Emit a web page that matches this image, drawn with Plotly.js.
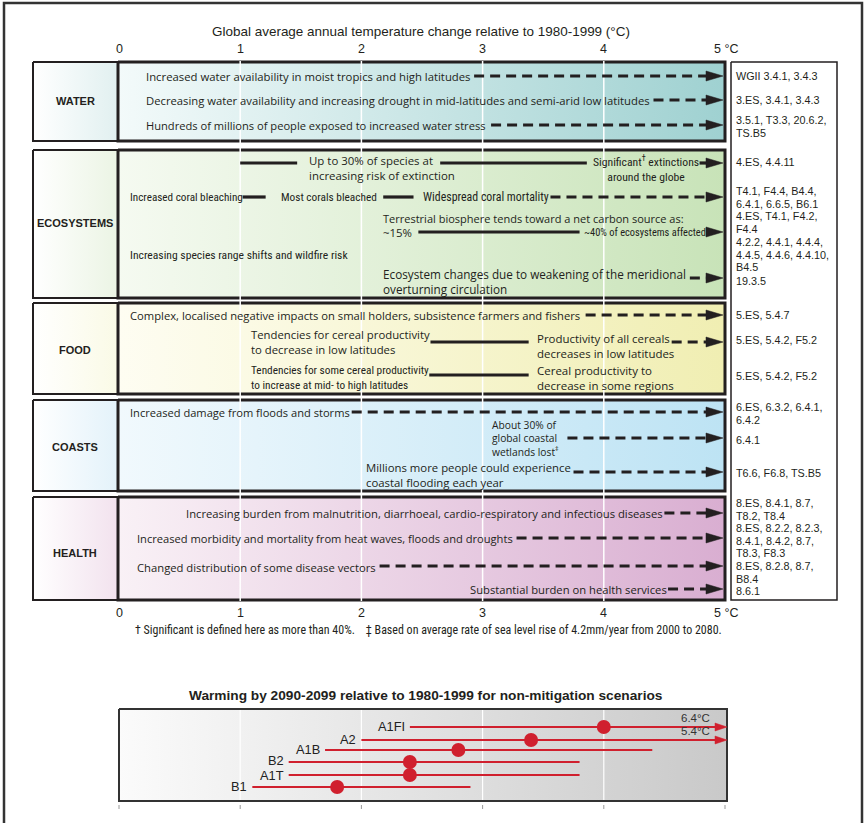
<!DOCTYPE html>
<html><head><meta charset="utf-8">
<script src="https://cdn.plot.ly/plotly-3.0.1.min.js"></script>
<style>html,body{margin:0;padding:0;background:#fff}</style>
</head><body><div id="chart" style="width:865px;height:823px"></div>
<script>
// ================= DATA =================
const mainTitle = 'Global average annual temperature change relative to 1980-1999 (°C)';
const tempTicks = [0, 1, 2, 3, 4, 5];
const tempTickLabels = ['0', '1', '2', '3', '4', '5 °C'];
const sectors = ['WATER', 'ECOSYSTEMS', 'FOOD', 'COASTS', 'HEALTH'];

const impactLabels = [
  'Increased water availability in moist tropics and high latitudes',
  'Decreasing water availability and increasing drought in mid-latitudes and semi-arid low latitudes',
  'Hundreds of millions of people exposed to increased water stress',
  'Up to 30% of species at|increasing risk of extinction',
  'Significant<sup>†</sup> extinctions|around the globe',
  'Increased coral bleaching',
  'Most corals bleached',
  'Widespread coral mortality',
  'Terrestrial biosphere tends toward a net carbon source as:',
  '~15%',
  '~40% of ecosystems affected',
  'Increasing species range shifts and wildfire risk',
  'Ecosystem changes due to weakening of the meridional|overturning circulation',
  'Complex, localised negative impacts on small holders, subsistence farmers and fishers',
  'Tendencies for cereal productivity|to decrease in low latitudes',
  'Productivity of all cereals|decreases in low latitudes',
  'Tendencies for some cereal productivity|to increase at mid- to high latitudes',
  'Cereal productivity to|decrease in some regions',
  'Increased damage from floods and storms',
  'About 30% of|global coastal|wetlands lost<sup>‡</sup>',
  'Millions more people could experience|coastal flooding each year',
  'Increasing burden from malnutrition, diarrhoeal, cardio-respiratory and infectious diseases',
  'Increased morbidity and mortality from heat waves, floods and droughts',
  'Changed distribution of some disease vectors',
  'Substantial burden on health services'
];

// impact line segments (°C), row index, dashed flag
const segRow    = [0, 1, 2, 3, 3, 3, 4, 4, 4, 5, 6, 7, 8, 8, 9, 10, 11, 12, 13, 14, 15, 16];
const segFrom   = [2.93, 4.41, 3.07, 1.0, 2.65, 4.79, 1.02, 2.18, 3.56, 2.47, 4.71, 3.85, 2.57, 4.56, 2.56, 1.92, 3.70, 3.75, 4.50, 3.28, 2.15, 4.53];
const segTo     = [5, 5, 5, 1.47, 3.86, 5, 1.21, 2.43, 5, 3.80, 5, 5, 3.38, 5, 3.38, 5, 5, 5, 5, 5, 5, 5];
const segDashed = [1, 1, 1, 0, 0, 0, 0, 0, 1, 0, 1, 1, 0, 1, 0, 1, 1, 1, 1, 1, 1, 1];
// rows whose impacts continue beyond 5 °C (arrow)
const arrowRows = [0, 1, 2, 3, 4, 5, 6, 7, 8, 10, 11, 12, 13, 14, 15, 16];

const refCodes = [
  'WGII 3.4.1, 3.4.3',
  '3.ES, 3.4.1, 3.4.3',
  '3.5.1, T3.3, 20.6.2,|TS.B5',
  '4.ES, 4.4.11',
  'T4.1, F4.4, B4.4,|6.4.1, 6.6.5, B6.1',
  '4.ES, T4.1, F4.2,|F4.4',
  '4.2.2, 4.4.1, 4.4.4,|4.4.5, 4.4.6, 4.4.10,|B4.5',
  '19.3.5',
  '5.ES, 5.4.7',
  '5.ES, 5.4.2, F5.2',
  '5.ES, 5.4.2, F5.2',
  '6.ES, 6.3.2, 6.4.1,|6.4.2',
  '6.4.1',
  'T6.6, F6.8, TS.B5',
  '8.ES, 8.4.1, 8.7,|T8.2, T8.4',
  '8.ES, 8.2.2, 8.2.3,|8.4.1, 8.4.2, 8.7,|T8.3, F8.3',
  '8.ES, 8.2.8, 8.7,|B8.4',
  '8.6.1'
];

const footnote = '† Significant is defined here as more than 40%.    ‡ Based on average rate of sea level rise of 4.2mm/year from 2000 to 2080.';

const scenTitle = 'Warming by 2090-2099 relative to 1980-1999 for non-mitigation scenarios';
const scenarios    = ['B1', 'A1T', 'B2', 'A1B', 'A2', 'A1FI'];
const scenarioBest = [1.8, 2.4, 2.4, 2.8, 3.4, 4.0];
const scenarioLow  = [1.1, 1.4, 1.4, 1.7, 2.0, 2.4];
const scenarioHigh = [2.9, 3.8, 3.8, 4.4, 5.4, 6.4];

// ================= LAYOUT (positions / styles) =================
const X0 = 119, PXC = 121.2;            // pixel of 0 °C, pixels per °C
const P = px => (px - X0) / PXC;        // page pixel -> axis value
const W = 865, H = 823;

const INK = '#231f20';
const FAM_MAIN = 'Open Sans, sans-serif';
const FAM_COND = 'Roboto Condensed, DejaVu Sans Condensed, Liberation Sans, sans-serif';
const FAM_ARIAL = 'Liberation Sans, Arial, sans-serif';

const sectorTop = [62, 150, 303, 400, 497];
const sectorBot = [141, 298, 394, 491, 600];
const sectorLabelY = [101, 223, 350, 447, 553];
const sectorEnd = ['#9fd1d1', '#c8e3b8', '#f0eeb2', '#bde3f4', '#d9aed1'];
const sectorStart = ['#f3fafa', '#f5faf1', '#fefdf2', '#f1f9fd', '#f9f1f6'];
const catEnd = ['#e1f0f0', '#ebf4e4', '#fafae6', '#e3f2fa', '#f2e2ee'];

const rowY = [76, 100, 125, 163, 197, 232, 278, 315, 342, 375, 412, 438, 472, 513, 538, 566, 589];
// first-line centre (px), line pitch, target first-line width, anchor, style
const labelPx  = [144, 144, 144, 307, 646, 128, 279, 421, 381, 381, 582, 128, 381, 128, 249, 535, 249, 535, 128, 490, 364, 184, 135, 135, 468];
const labelPy  = [76, 100, 125, 162, 162, 197, 197, 197, 218, 232, 232, 255, 275, 315, 336, 339, 372, 372, 412, 426, 468, 513, 538, 567, 589];
const labelGap = [12, 12, 12, 12, 12, 12, 12, 12, 12, 12, 12, 12, 13, 12, 12, 13, 12, 12, 12, 12, 13, 12, 12, 12, 12];
const labelW   = [325, 504, 340, 124, 108, 113, 96, 126, 301, 29, 122, 218, 303, 451, 179, 133, 178, 115, 220, 64, 205, 477, 376, 239, 197];
const labelAlign = ['left','left','left','left','center','left','left','left','left','left','left','left','left','left','left','left','left','left','left','left','left','left','left','left','left'];
const labelStyle = ['n','n','n','n','c','c','c','c','n','n','c','c','n','n','n','n','c','n','n','n','n','n','n','n','n'];

const refY = [76, 100, 120, 162, 191, 216, 242, 281, 315, 340, 376, 407, 440, 473, 503, 528, 566, 591];
const REF_PITCH = 12.5, REF_SIZE = 10.8;

const scenY = [787, 775, 762, 750, 740, 727];
const scenLabelY = [786, 775.5, 760.5, 749, 739, 726];
const RED = '#d0202e';

const ARROW_TIP = P(723), ARROW_LEN = 17 / PXC, ARROW_HALF = 5;

// text measurement to fit label widths
const cv = document.createElement('canvas').getContext('2d');
function measure(txt, fam, size, bold) {
  cv.font = (bold ? 'bold ' : '') + size + 'px ' + fam.split(',').map(s => { s = s.trim(); return s === 'sans-serif' ? s : '"' + s + '"'; }).join(',');
  return cv.measureText(txt.replace(/<[^>]+>/g, '')).width;
}
function fitSize(txt, fam, target, lo, hi, bold) {
  const s = 10 * target / measure(txt, fam, 10, bold);
  return Math.max(lo, Math.min(hi, s));
}

// ================= BUILD =================
const traces = [];
const annotations = [];
const shapes = [];
const line = (x, y, color, width, dash) => ({type: 'scatter', mode: 'lines', hoverinfo: 'skip', showlegend: false,
  x, y, line: {color, width, dash: dash || 'solid'}});

sectors.forEach((s, i) => {
  const t = sectorTop[i], b = sectorBot[i];
  traces.push(Object.assign(line([P(33), P(118), P(118), P(33), P(33)], [t, t, b, b, t], INK, 2), {
    fill: 'toself', fillgradient: {type: 'horizontal', colorscale: [[0, '#ffffff'], [1, catEnd[i]]]}}));
  traces.push(Object.assign(line([P(118), P(725), P(725), P(118), P(118)], [t, t, b, b, t], INK, 3), {
    fill: 'toself', fillgradient: {type: 'horizontal', colorscale: [[0, sectorStart[i]], [1, sectorEnd[i]]]}}));
  annotations.push({x: P(75), y: sectorLabelY[i], text: '<b>' + s + '</b>', showarrow: false,
    xanchor: 'center', yanchor: 'middle', font: {family: FAM_ARIAL, size: 11, color: INK}});
});

{
  const gx = [], gy = [];
  tempTicks.slice(1, -1).forEach(v => { gx.push(v, v, null); gy.push(sectorTop[0] - 1, sectorBot[4] + 1, null); });
  traces.push(line(gx, gy, '#ffffff', 1.5));
}

traces.push(Object.assign(line([P(731), P(837), P(837), P(731), P(731)], [62, 62, 600, 600, 62], INK, 1.5),
  {fill: 'toself', fillcolor: '#ffffff'}));

const arrowBase = ARROW_TIP - ARROW_LEN;
segFrom.forEach((f, i) => {
  const y = rowY[segRow[i]];
  const to = segTo[i] >= 5 ? arrowBase + 0.01 : segTo[i];
  traces.push(line([f, to], [y, y], INK, 3.2, segDashed[i] ? '10px,6px' : 'solid'));
});
{
  const ax = [], ay = [];
  arrowRows.forEach(r => {
    const y = rowY[r];
    ax.push(arrowBase, ARROW_TIP, arrowBase, arrowBase, null);
    ay.push(y - ARROW_HALF, y, y + ARROW_HALF, y - ARROW_HALF, null);
  });
  traces.push(Object.assign(line(ax, ay, INK, 0.5), {fill: 'toself', fillcolor: INK}));
}

impactLabels.forEach((txt, i) => {
  const fam = labelStyle[i] === 'c' ? FAM_COND : FAM_MAIN;
  const lines = txt.split('|');
  const size = fitSize(lines[0], fam, labelW[i], 8.5, 12.5);
  annotations.push({x: P(labelPx[i]), y: labelPy[i] + (lines.length - 1) * labelGap[i] / 2,
    text: lines.join('<br>'), showarrow: false, align: labelAlign[i],
    xanchor: labelAlign[i], yanchor: 'middle', font: {family: fam, size: size, color: INK}});
});

refCodes.forEach((txt, i) => {
  txt.split('|').forEach((ln, k) => {
    annotations.push({x: P(734), y: refY[i] + k * REF_PITCH, text: ln, showarrow: false,
      xanchor: 'left', yanchor: 'middle', font: {family: FAM_ARIAL, size: REF_SIZE, color: INK}});
  });
});

annotations.push({x: P(421), y: 31, text: mainTitle, showarrow: false, xanchor: 'center', yanchor: 'middle',
  font: {family: FAM_ARIAL, size: fitSize(mainTitle, FAM_ARIAL, 418, 10, 15), color: INK}});
[49, 613].forEach(yy => {
  tempTicks.forEach((v, i) => {
    const last = i === tempTicks.length - 1;
    annotations.push({x: v, y: yy, text: tempTickLabels[i], showarrow: false,
      xanchor: last ? 'left' : 'center', xshift: last ? -13 : 0, yanchor: 'middle',
      font: {family: FAM_ARIAL, size: 12.5, color: INK}});
  });
});
annotations.push({x: P(428), y: 630, text: footnote, showarrow: false, xanchor: 'center', yanchor: 'middle',
  font: {family: FAM_COND, size: fitSize(footnote, FAM_COND, 587, 8, 12), color: INK}});

// ---------- scenario panel ----------
const SX1 = P(727);
traces.push(Object.assign(line([P(119), SX1, SX1, P(119), P(119)], [709, 709, 801, 801, 709], '#333333', 2), {
  fill: 'toself', fillgradient: {type: 'horizontal', colorscale: [[0, '#fbfbfb'], [1, '#c9c9c9']]}}));
{
  const gx = [], gy = [];
  tempTicks.slice(1, -1).forEach(v => { gx.push(v, v, null); gy.push(710, 800, null); });
  traces.push(line(gx, gy, '#ffffff', 1.2));
  const tx = [], ty = [];
  tempTicks.forEach(v => { tx.push(v, v, null); ty.push(805, 809, null); });
  traces.push(line(tx, ty, '#999999', 1));
}
const SARROW = 12 / PXC;
scenarios.forEach((s, i) => {
  const y = scenY[i];
  const clipped = scenarioHigh[i] > SX1;
  const end = clipped ? SX1 - SARROW + 0.01 : scenarioHigh[i];
  traces.push(line([scenarioLow[i], end], [y, y], RED, 2));
  if (clipped) {
    traces.push(Object.assign(line([SX1 - SARROW, SX1, SX1 - SARROW, SX1 - SARROW], [y - 4, y, y + 4, y - 4], RED, 0.5),
      {fill: 'toself', fillcolor: RED}));
    annotations.push({x: P(712), y: y - 9, text: scenarioHigh[i].toFixed(1) + '°C', showarrow: false,
      xanchor: 'right', yanchor: 'middle', font: {family: FAM_ARIAL, size: 11.5, color: '#333'}});
  }
  annotations.push({x: scenarioLow[i], y: scenLabelY[i], xshift: -3, text: s, showarrow: false,
    xanchor: 'right', yanchor: 'middle', font: {family: FAM_ARIAL, size: 12.8, color: '#222'}});
});
traces.push({type: 'scatter', mode: 'markers', hoverinfo: 'skip', showlegend: false,
  x: scenarioBest, y: scenY, marker: {color: RED, size: 14, line: {width: 0}}});
annotations.push({x: P(426), y: 695, text: '<b>' + scenTitle + '</b>', showarrow: false, xanchor: 'center', yanchor: 'middle',
  font: {family: FAM_ARIAL, size: fitSize(scenTitle, FAM_ARIAL, 474, 10, 15, true), color: INK}});

shapes.push({type: 'rect', xref: 'x', yref: 'y', x0: P(4), x1: P(862), y0: 3, y1: 840,
  line: {color: '#333333', width: 2.5}, layer: 'above'});

const layout = {
  width: W, height: H, margin: {l: 0, r: 0, t: 0, b: 0},
  paper_bgcolor: '#ffffff', plot_bgcolor: '#ffffff',
  xaxis: {range: [P(0), P(W)], visible: false, fixedrange: true},
  yaxis: {range: [H, 0], visible: false, fixedrange: true},
  showlegend: false, annotations, shapes
};
Plotly.newPlot('chart', traces, layout, {staticPlot: true});
</script></body></html>
